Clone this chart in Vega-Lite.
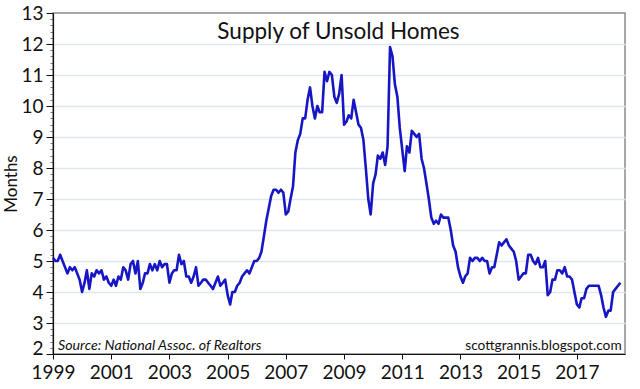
{
  "$schema": "https://vega.github.io/schema/vega-lite/v6.json",
  "autosize": "none",
  "width": 572,
  "height": 341,
  "padding": {"left": 53, "top": 13, "right": 15, "bottom": 35},
  "background": "white",
  "config": {
    "font": "Lato",
    "view": {"stroke": "#8a8a8a", "strokeWidth": 1.5},
    "axis": {"labelFont": "Lato", "titleFont": "Lato", "labelColor": "#111", "titleColor": "#111", "domainColor": "#111", "tickColor": "#111"}
  },
  "datasets": {
    "supply": [
      {"d":"1999-01","v":5.1},{"d":"1999-02","v":5.0},{"d":"1999-03","v":5.0},{"d":"1999-04","v":5.2},{"d":"1999-05","v":5.0},{"d":"1999-06","v":4.8},{"d":"1999-07","v":4.6},{"d":"1999-08","v":4.8},{"d":"1999-09","v":4.7},{"d":"1999-10","v":4.8},{"d":"1999-11","v":4.6},{"d":"1999-12","v":4.4},
      {"d":"2000-01","v":4.0},{"d":"2000-02","v":4.3},{"d":"2000-03","v":4.7},{"d":"2000-04","v":4.1},{"d":"2000-05","v":4.6},{"d":"2000-06","v":4.5},{"d":"2000-07","v":4.7},{"d":"2000-08","v":4.6},{"d":"2000-09","v":4.7},{"d":"2000-10","v":4.4},{"d":"2000-11","v":4.5},{"d":"2000-12","v":4.3},
      {"d":"2001-01","v":4.2},{"d":"2001-02","v":4.4},{"d":"2001-03","v":4.2},{"d":"2001-04","v":4.5},{"d":"2001-05","v":4.4},{"d":"2001-06","v":4.8},{"d":"2001-07","v":4.7},{"d":"2001-08","v":4.4},{"d":"2001-09","v":4.9},{"d":"2001-10","v":5.0},{"d":"2001-11","v":4.6},{"d":"2001-12","v":5.0},
      {"d":"2002-01","v":4.1},{"d":"2002-02","v":4.3},{"d":"2002-03","v":4.6},{"d":"2002-04","v":4.6},{"d":"2002-05","v":4.9},{"d":"2002-06","v":4.7},{"d":"2002-07","v":4.9},{"d":"2002-08","v":4.7},{"d":"2002-09","v":5.0},{"d":"2002-10","v":4.8},{"d":"2002-11","v":4.9},{"d":"2002-12","v":4.9},
      {"d":"2003-01","v":4.3},{"d":"2003-02","v":4.6},{"d":"2003-03","v":4.7},{"d":"2003-04","v":4.7},{"d":"2003-05","v":5.2},{"d":"2003-06","v":4.9},{"d":"2003-07","v":5.0},{"d":"2003-08","v":4.5},{"d":"2003-09","v":4.5},{"d":"2003-10","v":4.3},{"d":"2003-11","v":4.5},{"d":"2003-12","v":4.8},
      {"d":"2004-01","v":4.2},{"d":"2004-02","v":4.3},{"d":"2004-03","v":4.4},{"d":"2004-04","v":4.4},{"d":"2004-05","v":4.3},{"d":"2004-06","v":4.2},{"d":"2004-07","v":4.1},{"d":"2004-08","v":4.3},{"d":"2004-09","v":4.5},{"d":"2004-10","v":4.2},{"d":"2004-11","v":4.3},{"d":"2004-12","v":4.4},
      {"d":"2005-01","v":3.9},{"d":"2005-02","v":3.6},{"d":"2005-03","v":4.0},{"d":"2005-04","v":4.0},{"d":"2005-05","v":4.2},{"d":"2005-06","v":4.3},{"d":"2005-07","v":4.5},{"d":"2005-08","v":4.6},{"d":"2005-09","v":4.7},{"d":"2005-10","v":4.6},{"d":"2005-11","v":4.8},{"d":"2005-12","v":5.0},
      {"d":"2006-01","v":5.0},{"d":"2006-02","v":5.1},{"d":"2006-03","v":5.3},{"d":"2006-04","v":5.8},{"d":"2006-05","v":6.3},{"d":"2006-06","v":6.7},{"d":"2006-07","v":7.1},{"d":"2006-08","v":7.3},{"d":"2006-09","v":7.3},{"d":"2006-10","v":7.2},{"d":"2006-11","v":7.3},{"d":"2006-12","v":7.2},
      {"d":"2007-01","v":6.5},{"d":"2007-02","v":6.6},{"d":"2007-03","v":7.0},{"d":"2007-04","v":7.4},{"d":"2007-05","v":8.5},{"d":"2007-06","v":8.9},{"d":"2007-07","v":9.1},{"d":"2007-08","v":9.6},{"d":"2007-09","v":9.6},{"d":"2007-10","v":10.2},{"d":"2007-11","v":10.6},{"d":"2007-12","v":10.0},
      {"d":"2008-01","v":9.6},{"d":"2008-02","v":10.0},{"d":"2008-03","v":9.8},{"d":"2008-04","v":9.8},{"d":"2008-05","v":11.1},{"d":"2008-06","v":10.8},{"d":"2008-07","v":11.1},{"d":"2008-08","v":11.0},{"d":"2008-09","v":10.3},{"d":"2008-10","v":10.1},{"d":"2008-11","v":10.4},{"d":"2008-12","v":11.0},
      {"d":"2009-01","v":9.4},{"d":"2009-02","v":9.5},{"d":"2009-03","v":9.7},{"d":"2009-04","v":9.6},{"d":"2009-05","v":10.2},{"d":"2009-06","v":9.8},{"d":"2009-07","v":9.4},{"d":"2009-08","v":9.3},{"d":"2009-09","v":8.9},{"d":"2009-10","v":8.0},{"d":"2009-11","v":7.0},{"d":"2009-12","v":6.5},
      {"d":"2010-01","v":7.5},{"d":"2010-02","v":7.8},{"d":"2010-03","v":8.4},{"d":"2010-04","v":8.3},{"d":"2010-05","v":8.5},{"d":"2010-06","v":8.1},{"d":"2010-07","v":8.7},{"d":"2010-08","v":11.9},{"d":"2010-09","v":11.6},{"d":"2010-10","v":10.7},{"d":"2010-11","v":10.3},{"d":"2010-12","v":9.3},
      {"d":"2011-01","v":8.6},{"d":"2011-02","v":7.9},{"d":"2011-03","v":8.7},{"d":"2011-04","v":8.5},{"d":"2011-05","v":9.2},{"d":"2011-06","v":9.1},{"d":"2011-07","v":9.0},{"d":"2011-08","v":9.1},{"d":"2011-09","v":8.3},{"d":"2011-10","v":8.0},{"d":"2011-11","v":7.5},{"d":"2011-12","v":7.0},
      {"d":"2012-01","v":6.4},{"d":"2012-02","v":6.2},{"d":"2012-03","v":6.3},{"d":"2012-04","v":6.2},{"d":"2012-05","v":6.5},{"d":"2012-06","v":6.4},{"d":"2012-07","v":6.4},{"d":"2012-08","v":6.4},{"d":"2012-09","v":6.0},{"d":"2012-10","v":5.5},{"d":"2012-11","v":5.3},{"d":"2012-12","v":4.8},
      {"d":"2013-01","v":4.5},{"d":"2013-02","v":4.3},{"d":"2013-03","v":4.5},{"d":"2013-04","v":4.6},{"d":"2013-05","v":5.1},{"d":"2013-06","v":5.0},{"d":"2013-07","v":5.1},{"d":"2013-08","v":5.1},{"d":"2013-09","v":5.0},{"d":"2013-10","v":5.1},{"d":"2013-11","v":5.0},{"d":"2013-12","v":5.0},
      {"d":"2014-01","v":4.6},{"d":"2014-02","v":4.8},{"d":"2014-03","v":4.8},{"d":"2014-04","v":5.2},{"d":"2014-05","v":5.6},{"d":"2014-06","v":5.5},{"d":"2014-07","v":5.6},{"d":"2014-08","v":5.7},{"d":"2014-09","v":5.5},{"d":"2014-10","v":5.4},{"d":"2014-11","v":5.3},{"d":"2014-12","v":5.0},
      {"d":"2015-01","v":4.4},{"d":"2015-02","v":4.5},{"d":"2015-03","v":4.6},{"d":"2015-04","v":4.6},{"d":"2015-05","v":5.2},{"d":"2015-06","v":5.2},{"d":"2015-07","v":5.0},{"d":"2015-08","v":4.9},{"d":"2015-09","v":5.1},{"d":"2015-10","v":4.8},{"d":"2015-11","v":4.8},{"d":"2015-12","v":5.0},
      {"d":"2016-01","v":3.9},{"d":"2016-02","v":4.0},{"d":"2016-03","v":4.4},{"d":"2016-04","v":4.4},{"d":"2016-05","v":4.7},{"d":"2016-06","v":4.7},{"d":"2016-07","v":4.6},{"d":"2016-08","v":4.8},{"d":"2016-09","v":4.5},{"d":"2016-10","v":4.5},{"d":"2016-11","v":4.4},{"d":"2016-12","v":4.0},
      {"d":"2017-01","v":3.6},{"d":"2017-02","v":3.5},{"d":"2017-03","v":3.8},{"d":"2017-04","v":3.8},{"d":"2017-05","v":4.1},{"d":"2017-06","v":4.2},{"d":"2017-07","v":4.2},{"d":"2017-08","v":4.2},{"d":"2017-09","v":4.2},{"d":"2017-10","v":4.2},{"d":"2017-11","v":3.9},{"d":"2017-12","v":3.5},
      {"d":"2018-01","v":3.2},{"d":"2018-02","v":3.4},{"d":"2018-03","v":3.4},{"d":"2018-04","v":4.0},{"d":"2018-05","v":4.1},{"d":"2018-06","v":4.2},{"d":"2018-07","v":4.3}
    ],
    "notes": [
      {"d":"2008-10-23","v":12.16,"t":"Supply of Unsold Homes"}
    ],
    "src": [
      {"d":"1999-03-05","v":2.13,"t":"Source: National Assoc. of Realtors"}
    ],
    "web": [
      {"d":"2018-07-17","v":2.13,"t":"scottgrannis.blogspot.com"}
    ]
  },
  "resolve": {"axis": {"y": "independent"}},
  "layer": [
    {
      "data": {"name": "supply"},
      "mark": {"type": "line", "opacity": 0},
      "encoding": {
        "x": {"field": "d", "type": "temporal"},
        "y": {
          "field": "v", "type": "quantitative",
          "axis": {
            "orient": "left",
            "title": null,
            "values": [2.2,2.4,2.6,2.8,3.2,3.4,3.6,3.8,4.2,4.4,4.6,4.8,5.2,5.4,5.6,5.8,6.2,6.4,6.6,6.8,7.2,7.4,7.6,7.8,8.2,8.4,8.6,8.8,9.2,9.4,9.6,9.8,10.2,10.4,10.6,10.8,11.2,11.4,11.6,11.8,12.2,12.4,12.6,12.8],
            "labels": false,
            "domain": false,
            "grid": false,
            "tickSize": 3,
            "tickColor": "#555",
            "tickWidth": 0.8
          }
        }
      }
    },
    {
      "data": {"name": "supply"},
      "mark": {"type": "line", "color": "#1616c4", "strokeWidth": 2.6, "strokeJoin": "round"},
      "encoding": {
        "x": {
          "field": "d", "type": "temporal",
          "scale": {"type": "utc", "domain": [{"year": 1999, "month": 1, "date": 1, "utc": true}, {"year": 2018, "month": 8, "date": 28, "utc": true}]},
          "axis": {
            "title": null,
            "grid": false,
            "values": [
              {"year":1999,"month":1,"date":1,"utc":true},{"year":2000,"month":1,"date":1,"utc":true},{"year":2001,"month":1,"date":1,"utc":true},{"year":2002,"month":1,"date":1,"utc":true},{"year":2003,"month":1,"date":1,"utc":true},{"year":2004,"month":1,"date":1,"utc":true},{"year":2005,"month":1,"date":1,"utc":true},{"year":2006,"month":1,"date":1,"utc":true},{"year":2007,"month":1,"date":1,"utc":true},{"year":2008,"month":1,"date":1,"utc":true},{"year":2009,"month":1,"date":1,"utc":true},{"year":2010,"month":1,"date":1,"utc":true},{"year":2011,"month":1,"date":1,"utc":true},{"year":2012,"month":1,"date":1,"utc":true},{"year":2013,"month":1,"date":1,"utc":true},{"year":2014,"month":1,"date":1,"utc":true},{"year":2015,"month":1,"date":1,"utc":true},{"year":2016,"month":1,"date":1,"utc":true},{"year":2017,"month":1,"date":1,"utc":true},{"year":2018,"month":1,"date":1,"utc":true}
            ],
            "labelExpr": "utcyear(datum.value) % 2 == 1 ? utcFormat(datum.value, '%Y') : ''",
            "labelFontSize": 19,
            "labelPadding": 4,
            "tickSize": 5,
            "labelFlush": false,
            "labelOverlap": false,
            "domainWidth": 1.2
          }
        },
        "y": {
          "field": "v", "type": "quantitative",
          "scale": {"domain": [2, 13], "nice": false, "zero": false},
          "axis": {
            "orient": "left",
            "title": "Months",
            "titleFontSize": 17,
            "titleFontWeight": "normal",
            "titleX": -42,
            "titleBaseline": "middle",
            "values": [2,3,4,5,6,7,8,9,10,11,12,13],
            "format": "d",
            "labelFontSize": 19,
            "labelPadding": 3,
            "labelBaseline": {"condition": {"test": "datum.value < 2.5", "value": "alphabetic"}, "value": "middle"},
            "tickSize": 7,
            "grid": true,
            "gridColor": "#dfe7ee",
            "gridWidth": 1.3,
            "gridOpacity": {"condition": {"test": "datum.value > 2.5 && datum.value < 12.5", "value": 1}, "value": 0},
            "labelOverlap": false,
            "labelFlush": false,
            "domainWidth": 1.2
          }
        }
      }
    },
    {
      "data": {"name": "notes"},
      "mark": {"type": "text", "fontSize": 22.5, "font": "Lato", "align": "center", "baseline": "alphabetic", "color": "#111"},
      "encoding": {
        "x": {"field": "d", "type": "temporal"},
        "y": {"field": "v", "type": "quantitative", "axis": null},
        "text": {"field": "t"}
      }
    },
    {
      "data": {"name": "src"},
      "mark": {"type": "text", "fontSize": 14.2, "font": "Lato", "fontStyle": "italic", "align": "left", "baseline": "alphabetic", "color": "#111"},
      "encoding": {
        "x": {"field": "d", "type": "temporal"},
        "y": {"field": "v", "type": "quantitative", "axis": null},
        "text": {"field": "t"}
      }
    },
    {
      "data": {"name": "web"},
      "mark": {"type": "text", "fontSize": 13.7, "font": "Lato", "align": "right", "baseline": "alphabetic", "color": "#111"},
      "encoding": {
        "x": {"field": "d", "type": "temporal"},
        "y": {"field": "v", "type": "quantitative", "axis": null},
        "text": {"field": "t"}
      }
    }
  ]
}
